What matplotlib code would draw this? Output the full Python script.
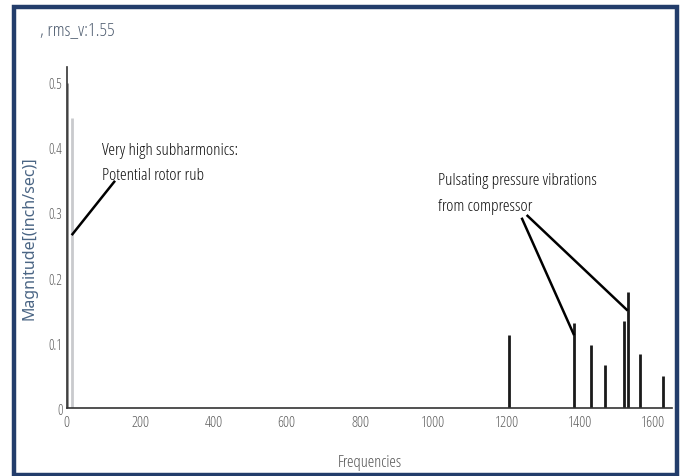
import matplotlib
matplotlib.use("Agg")
import matplotlib.pyplot as plt
from matplotlib.patches import Rectangle

plt.rcParams["font.family"] = ["Open Sans", "DejaVu Sans"]
plt.rcParams["font.stretch"] = "condensed"
plt.rcParams["font.weight"] = 500

# low frequency (subharmonic) lines, drawn in grey
sub_freqs = [2, 14]
sub_mags = [0.50, 0.445]
sub_colors = ["#8c8c8c", "#c9cacd"]

# compressor related peaks
freqs = [1207, 1384, 1429, 1468, 1520, 1532, 1564, 1627]
mags = [0.112, 0.131, 0.097, 0.066, 0.134, 0.178, 0.083, 0.049]

xticks = [0, 200, 400, 600, 800, 1000, 1200, 1400, 1600]
yticks = [0, 0.1, 0.2, 0.3, 0.4, 0.5]
ytick_labels = ["0", "0.1", "0.2", "0.3", "0.4", "0.5"]

fig = plt.figure(figsize=(6.81, 4.77), dpi=100)
fig.patches.append(Rectangle((13.5/681, 1.5/477), 663.5/681, 467.5/477, transform=fig.transFigure,
                             fill=False, edgecolor="#233d6b", linewidth=3.2))
ax = fig.add_axes([66.7/681, (477-409.3)/477, (672-66.7)/681, (409.3-68.3)/477])

ax.vlines(sub_freqs, 0, sub_mags, colors=sub_colors, linewidth=2)
ax.vlines(freqs, 0, mags, colors="#1a1a1a", linewidth=2)

ax.set_xlim(0, 1651)
ax.set_ylim(0, 0.5235)
ax.set_xticks(xticks)
ax.set_yticks(yticks)
ax.set_yticklabels(ytick_labels)
ax.tick_params(length=0, colors="#5f5f5f")
ax.tick_params(axis="x", labelsize=11, pad=5)
ax.tick_params(axis="y", labelsize=10, pad=3)
for s in ["top", "right"]:
    ax.spines[s].set_visible(False)
for s in ["left", "bottom"]:
    ax.spines[s].set_color("#333333")
    ax.spines[s].set_linewidth(1.2)

ax.set_xlabel("Frequencies", fontsize=12, color="#555555")
ax.xaxis.set_label_coords(0.501, -0.134)
ax.set_ylabel("Magnitude[(inch/sec)]", fontsize=11.5, color="#4a6584",
              family=["Noto Sans", "DejaVu Sans"], fontstretch="normal", fontweight="normal")
ax.yaxis.set_label_coords(-0.049, 0.5015)

fig.text(40/681, 1 - 35/477, ", rms_v:1.55", fontsize=13.5, color="#4f5d70", va="baseline")

# annotations
ax.text(95, 0.390, "Very high subharmonics:", fontsize=12.4, color="#111111", va="baseline")
ax.text(95, 0.352, "Potential rotor rub", fontsize=12.4, color="#111111", va="baseline")
ax.plot([131.8, 13.6], [0.3493, 0.2658], color="black", lw=1.8, solid_capstyle="butt")

ax.text(1012, 0.3436, "Pulsating pressure vibrations", fontsize=12.4, color="#111111", va="baseline")
ax.text(1012, 0.305, "from compressor", fontsize=12.4, color="#111111", va="baseline")
ax.plot([1240.8, 1384], [0.2926, 0.1122], color="black", lw=1.8, solid_capstyle="butt")
ax.plot([1254.5, 1530], [0.2968, 0.150], color="black", lw=1.8, solid_capstyle="butt")

fig.savefig("out.png", dpi=100)
